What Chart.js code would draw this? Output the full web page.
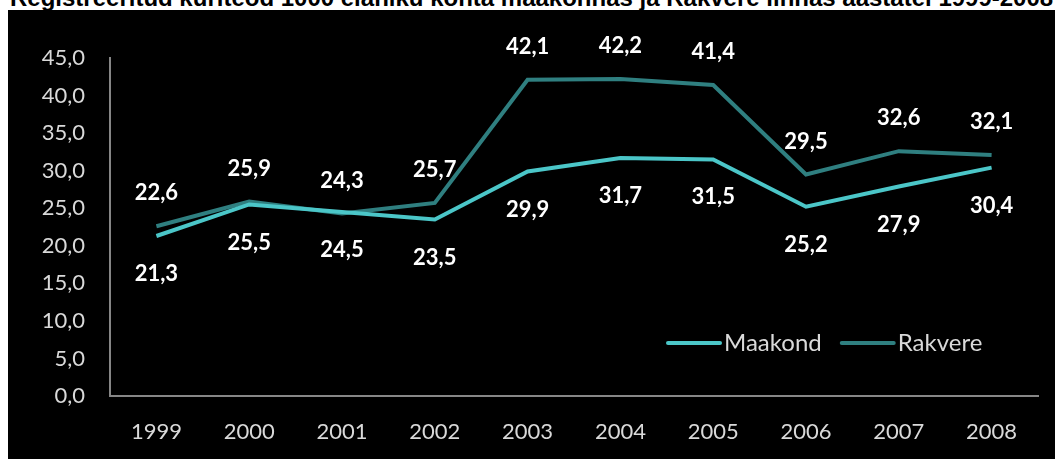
<!DOCTYPE html>
<html>
<head>
<meta charset="utf-8">
<script src="https://cdn.jsdelivr.net/npm/chart.js@4/dist/chart.umd.min.js"></script>
<style>
  html, body { margin: 0; padding: 0; background: #fff; overflow: hidden; }
  body { width: 1055px; height: 459px; position: relative; }
  #title {
    position: absolute; left: 10px; top: -14px; white-space: nowrap;
    font: bold 24px "Liberation Sans Narrow", "Liberation Sans", Arial, sans-serif;
    line-height: 24px; color: #000;
  }
  #box { position: absolute; left: 8px; top: 10px; width: 1047px; height: 449px; background: #000; }
  canvas { display: block; }
</style>
</head>
<body>
<div id="title">Registreeritud kuriteod 1000 elaniku kohta maakonnas ja Rakvere linnas aastatel 1999-2008</div>
<div id="box"><canvas id="chart" width="1047" height="449"></canvas></div>
<script>
// chart values
const years = ['1999', '2000', '2001', '2002', '2003', '2004', '2005', '2006', '2007', '2008'];
const maakond = [21.3, 25.5, 24.5, 23.5, 29.9, 31.7, 31.5, 25.2, 27.9, 30.4];
const rakvere = [22.6, 25.9, 24.3, 25.7, 42.1, 42.2, 41.4, 29.5, 32.6, 32.1];
const yTicks = [0, 5, 10, 15, 20, 25, 30, 35, 40, 45];

const fmt = v => v.toFixed(1).replace('.', ',');

// value labels: Rakvere above the line, Maakond below
const valueLabels = {
    id: 'valueLabels',
    afterDatasetsDraw(chart) {
        const ctx = chart.ctx;
        ctx.save();
        ctx.font = 'bold 22px Lato';
        ctx.fillStyle = '#ffffff';
        ctx.textAlign = 'center';
        ctx.textBaseline = 'middle';
        chart.data.datasets.forEach((ds, i) => {
            const shift = ds.label === 'Rakvere' ? -33 : 38;
            chart.getDatasetMeta(i).data.forEach((pt, j) => {
                ctx.fillText(fmt(ds.data[j]), pt.x, pt.y + shift);
            });
        });
        ctx.restore();
    }
};

// legend inside the plot, bottom right
const innerLegend = {
    id: 'innerLegend',
    afterDraw(chart) {
        const ctx = chart.ctx;
        ctx.save();
        ctx.font = '24px Lato';
        ctx.textBaseline = 'middle';
        let x = 660;
        const y = 333;
        chart.data.datasets.forEach(ds => {
            ctx.strokeStyle = ds.borderColor;
            ctx.lineWidth = 4;
            ctx.lineCap = 'round';
            ctx.beginPath();
            ctx.moveTo(x, y);
            ctx.lineTo(x + 52, y);
            ctx.stroke();
            ctx.fillStyle = '#d9d9d9';
            ctx.fillText(ds.label, x + 56, y);
            x += 56 + ctx.measureText(ds.label).width + 20;
        });
        ctx.restore();
    }
};

new Chart(document.getElementById('chart'), {
    type: 'line',
    data: {
        labels: years,
        datasets: [{
            label: 'Maakond',
            data: maakond,
            borderColor: '#4bc6c8',
            borderWidth: 4,
            pointRadius: 0,
            tension: 0
        }, {
            label: 'Rakvere',
            data: rakvere,
            borderColor: '#2f7f80',
            borderWidth: 4,
            pointRadius: 0,
            tension: 0
        }]
    },
    options: {
        responsive: false,
        animation: false,
        layout: { padding: { top: 48, right: 17, left: 0, bottom: 0 } },
        plugins: {
            legend: { display: false },
            tooltip: { enabled: false }
        },
        scales: {
            x: {
                offset: true,
                grid: { drawOnChartArea: false, drawTicks: false },
                border: { color: '#868686', width: 2 },
                ticks: { color: '#d9d9d9', font: { family: 'Lato', size: 22 }, padding: 23 },
                afterFit: s => { s.height = 63; }
            },
            y: {
                min: 0,
                max: 45,
                afterBuildTicks: s => { s.ticks = yTicks.map(v => ({ value: v })); },
                grid: { drawOnChartArea: false, drawTicks: false },
                border: { color: '#868686', width: 2 },
                ticks: {
                    color: '#d9d9d9',
                    font: { family: 'Lato', size: 22 },
                    padding: 25,
                    callback: v => fmt(v)
                },
                afterFit: s => { s.width = 102; }
            }
        }
    },
    plugins: [valueLabels, innerLegend]
});
</script>
</body>
</html>
